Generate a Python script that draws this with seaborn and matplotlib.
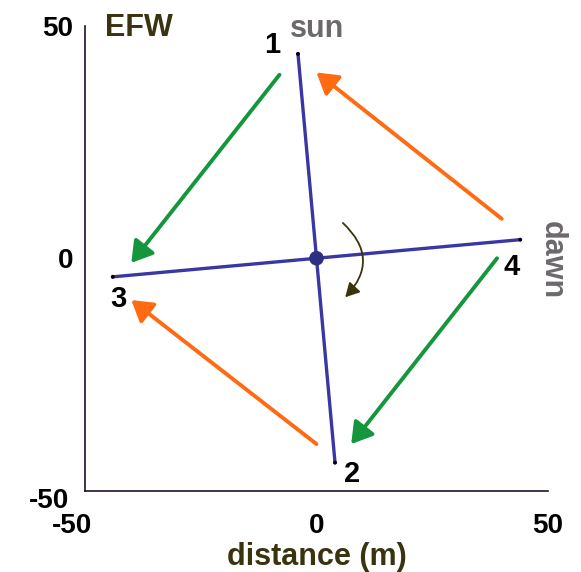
import matplotlib
matplotlib.use("Agg")
import matplotlib.pyplot as plt
import matplotlib.transforms as mtransforms
import seaborn as sns
import pandas as pd

# Antenna booms (rotated spin-plane frame), metres
sun_boom_x = [-4, 4]
sun_boom_y = [44, -44]
dawn_boom_x = [-44, 44]
dawn_boom_y = [-4, 4]

# Probe labels and positions
probe_labels = ["1", "2", "3", "4"]
probe_x = [-9.6, 7.6, -42.7, 42.2]
probe_y = [44.1, -48.2, -10.5, -3.7]

# Probe-to-probe field vectors (start -> tip)
green_start = [(-8, 39.5), (39, 0)]
green_tip = [(-40, -1), (7.5, -40)]
orange_start = [(40, 8.5), (0, -40)]
orange_tip = [(0, 40), (-40, -9)]

# Spin direction arrow around the spacecraft centre
spin_start = (5.7, 7.6)
spin_tip = (6.2, -8.4)

ticks = [-50, 0, 50]

sns.set_theme(style="white")
plt.rcParams["font.family"] = ["Liberation Sans", "DejaVu Sans"]
plt.rcParams["font.weight"] = "bold"

BLUE = "#3a36a3"
GREEN = "#14973c"
ORANGE = "#ff6a12"
OLIVE = "#3a3310"
GREY = "#6c686c"
SPINE = "#24102a"

fig = plt.figure(figsize=(5.81, 5.72), dpi=100)
ax = fig.add_axes([85 / 581, (572 - 490.5) / 572, 463 / 581, 464.5 / 572])

booms = pd.DataFrame({
    "x": sun_boom_x + dawn_boom_x,
    "y": sun_boom_y + dawn_boom_y,
    "boom": ["sun"] * 2 + ["dawn"] * 2,
})
for name, grp in booms.groupby("boom"):
    sns.lineplot(data=grp, x="x", y="y", sort=False, color=BLUE, lw=2.4,
                 ax=ax, legend=False, zorder=3)

# probe tips
sns.scatterplot(x=booms["x"], y=booms["y"], color="black", s=8,
                edgecolor="none", ax=ax, zorder=4)
# spacecraft centre
sns.scatterplot(x=[0], y=[0], color="#2d2f80", s=110, edgecolor="none",
                ax=ax, zorder=5)

head = "-|>,head_length=0.62,head_width=0.38"
for s, t in zip(green_start, green_tip):
    ax.annotate("", xy=t, xytext=s,
                arrowprops=dict(arrowstyle=head, color=GREEN, lw=2.8,
                                mutation_scale=20, shrinkA=0, shrinkB=0))
for s, t in zip(orange_start, orange_tip):
    ax.annotate("", xy=t, xytext=s,
                arrowprops=dict(arrowstyle=head, color=ORANGE, lw=2.8,
                                mutation_scale=20, shrinkA=0, shrinkB=0))

ax.annotate("", xy=spin_tip, xytext=spin_start,
            arrowprops=dict(arrowstyle="-|>,head_length=0.65,head_width=0.35",
                            color=OLIVE, lw=1.3, mutation_scale=13,
                            shrinkA=0, shrinkB=0,
                            connectionstyle="arc3,rad=-0.5"))

for lab, px, py in zip(probe_labels, probe_x, probe_y):
    ax.text(px, py, lab, fontsize=21, fontweight="bold", color="black",
            ha="center", va="baseline")

ax.text(-5.7, 47.6, "sun", fontsize=22, fontweight="bold", color=GREY,
        ha="left", va="baseline")
ax.text(50.8, -0.4, "dawn", fontsize=22, fontweight="bold", color=GREY,
        ha="center", va="center", rotation=-90)
ax.text(-45.6, 47.8, "EFW", fontsize=22, fontweight="bold", color=OLIVE,
        ha="left", va="baseline")

ax.set_xlim(-50, 50)
ax.set_ylim(-50, 50)
ax.set_xticks(ticks)
ax.set_yticks(ticks)
ax.set_xticklabels([str(t) for t in ticks], fontsize=20, fontweight="bold")
ax.set_yticklabels([str(t) for t in ticks], fontsize=20, fontweight="bold")
ax.set_xlabel("distance (m)", fontsize=22, fontweight="bold", color=OLIVE,
              labelpad=2)
ax.set_ylabel("")

for side in ("top", "right"):
    ax.spines[side].set_visible(False)
for side in ("left", "bottom"):
    ax.spines[side].set_color(SPINE)
    ax.spines[side].set_linewidth(1.2)
ax.tick_params(axis="both", direction="in", length=4, width=1.1,
               color=SPINE, labelcolor="black")
ax.tick_params(axis="x", pad=16)
ax.tick_params(axis="y", pad=8.5)
ax.grid(False)
ax.set_facecolor("white")

# keep the two corner "-50" labels apart
xl0 = ax.get_xticklabels()[0]
xl0.set_transform(xl0.get_transform()
                  + mtransforms.ScaledTranslation(-13 / 100, 0, fig.dpi_scale_trans))
yl0 = ax.get_yticklabels()[0]
yl0.set_transform(yl0.get_transform()
                  + mtransforms.ScaledTranslation(-4 / 100, -8 / 100, fig.dpi_scale_trans))

fig.savefig("out.png", dpi=100, facecolor="white")
